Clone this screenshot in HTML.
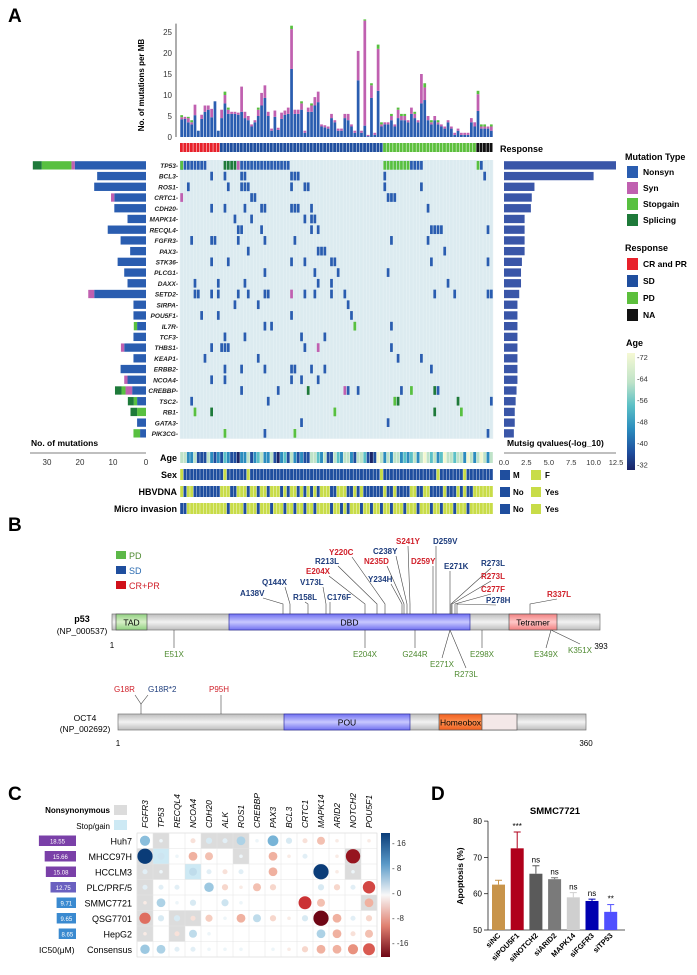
<!DOCTYPE html>
<html><head><meta charset="utf-8">
<style>
html,body{margin:0;padding:0;background:#fff;}
svg{display:block;font-family:"Liberation Sans",Arial,sans-serif;}
</style></head>
<body>
<svg id="fig" width="697" height="975" viewBox="0 0 697 975" xmlns="http://www.w3.org/2000/svg">
<text x="8" y="22" font-size="19" font-weight="bold">A</text>
<text x="8" y="531" font-size="19" font-weight="bold">B</text>
<text x="8" y="800" font-size="19" font-weight="bold">C</text>
<text x="431" y="800" font-size="19" font-weight="bold">D</text>
<g id="A"></g><g id="B"></g><g id="C"></g><g id="D"></g>
</svg>
<script>
// ===== Panel A data =====
const genes=["TP53","BCL3","ROS1","CRTC1","CDH20","MAPK14","RECQL4","FGFR3","PAX3","STK36","PLCG1","DAXX","SETD2","SIRPA","POU5F1","IL7R","TCF3","THBS1","KEAP1","ERBB2","NCOA4","CREBBP","TSC2","RB1","GATA3","PIK3CG"];
const tmbTotal=[5.2,4.8,4.8,4,7.7,1.5,5.3,7.5,7.5,6.7,8.5,1.5,6.5,10.8,7,6,6,5.8,12,6,5,3,4,7,10.5,12.3,6,2,6.3,2.2,5.8,6.3,7,26.5,6.5,6.5,8.5,1.5,7,8,9.5,10.8,3,2.8,2.5,5.5,4,2,2,5.5,5.5,3,1.5,20.5,1.5,28,0.5,12.8,1,22,3.5,3.5,3.5,5.5,3,7,5.5,5.5,4,7,6,4,15,12.8,5,4,5,4,3,2.5,4,2.5,1,2,1,1,1,4.5,3.5,11,3,3,2.5,3];
const tmbSyn=[0.5,0.5,1,0.5,2.5,0,1,1.5,1,2,0,0,2,2,1,0.5,0.5,0.5,6,1.5,1,0.5,0.5,1.5,3,3,1,0.5,1.5,0.5,1.5,1,1.5,9.5,1,1,1.5,0.5,1,1.5,2,2.5,0.5,0.5,0.5,1,0.5,0.5,0.5,1,1.5,0.5,0.5,7,0.5,25,0.3,3,0.5,10,0.5,0.5,0.5,1,0.5,2,1,1,0.5,1.5,1,0.5,7,3,1,0.5,1,0.5,0.5,0.5,0.5,0.5,0.5,0.5,0.5,0.5,0.5,1,1,4,0.5,0.5,0.5,1];
const tmbCap=[0.5,0,0.3,0.5,0,0,0,0,0,0,0,0,0,0.8,0.5,0,0,0,0,0,0,0,0,0.5,0,0,0,0,0,0,0,0,0,0.8,0,0,0.5,0,0,0.5,0,0,0,0,0,0,0,0,0,0,0,0,0,0,0,0.3,0,0.5,0,1,0.5,0,0,0.5,0,0.5,0.5,0.5,0,0,0.5,0,0,1,0,0.5,0,0.5,0,0,0,0,0,0,0,0,0,0,0,0.8,0.5,0.5,0,0.5];
const responseGroups=[["CR",12],["SD",49],["PD",28],["NA",5]];
// mutation marks: [geneIndex, column, type]  type: n=nonsyn s=syn g=stopgain p=splicing
const muts=[
[0,[0,1,2,3,4,5,6,7],"n"],[0,[0],"g"],[0,[13,14,15,16],"p"],[0,[17],"s"],[0,[18,19,20,21,22,23,24,25,26,27,28,29,30,31,32],"n"],[0,[61,62,63,64,65,66,67,68],"g"],[0,[69,70,71,72],"n"],[0,[89],"g"],[0,[90],"n"],
[1,[9,13,18,19,33,34,35,61,91],"n"],[2,[2,14,18,19,20,33,37,38,61,72],"n"],[3,[0],"s"],[3,[21,22,62,63,64],"n"],
[4,[9,13,19,24,25,33,34,35,39,74],"n"],[5,[16,21,37,39,40],"n"],[6,[17,18,24,39,41,75,76,77,78,92],"n"],
[7,[3,9,10,17,25,34,63,74],"n"],[8,[20,41,42,43,79],"n"],[9,[9,14,33,37,45,46,75,92],"n"],[10,[25,40,47,62],"n"],
[11,[4,11,19,41,45,80],"n"],[12,[4,5,9,11,17,20,25,26,37,40,45,49,76,82,92,93],"n"],[12,[33],"s"],
[13,[16,23,50],"n"],[14,[6,11,33,51],"n"],[15,[25,27,63],"n"],[15,[52],"g"],[16,[13,19,36,43],"n"],
[17,[9,12,13,14,37,63],"n"],[17,[41],"s"],[18,[7,23,65,72],"n"],[19,[13,18,25,33,34,39,43,75],"n"],[20,[9,13,33,36,41],"n"],
[21,[18,29,50,53,66,77],"n"],[21,[38,76],"p"],[21,[49],"s"],[21,[69],"g"],
[22,[3,26,93],"n"],[22,[64],"g"],[22,[65,83],"p"],[23,[4,46,84],"g"],[23,[9,76],"p"],
[24,[36,62],"n"],[25,[13,34],"g"],[25,[25,92],"n"]];
const leftNonsyn=[21.6,14.8,15.7,9.6,9.6,5.6,11.6,7.7,4.8,8.6,6.6,5.6,15.7,3.8,3.8,2.7,3.8,6.6,3.8,7.7,5.6,4.2,2.7,0,2.7,1.8];
const leftSyn=[1,0,0,1,0,0,0,0,0,0,0,0,1.8,0,0,0,0,1,0,0,1,2,0,0,0,0];
const leftStop=[9,0,0,0,0,0,0,0,0,0,0,0,0,0,0,1,0,0,0,0,0,1.2,1,2.7,0,2];
const leftSplice=[2.7,0,0,0,0,0,0,0,0,0,0,0,0,0,0,0,0,0,0,0,0,2,1.8,2,0,0];
const qvals=[12.5,10,3.4,3.1,3.0,2.3,2.3,2.3,2.3,2.0,1.9,1.9,1.7,1.5,1.5,1.5,1.5,1.5,1.5,1.5,1.5,1.4,1.3,1.2,1.2,1.1];
const ageVals=[60,62,50,45,62,36,40,38,62,45,42,50,36,55,48,36,38,30,44,50,60,40,50,55,62,48,46,62,40,32,50,55,38,62,45,38,50,36,42,62,66,52,50,62,40,36,66,58,48,62,62,50,40,62,66,55,38,30,42,70,62,46,60,50,66,60,48,52,50,55,62,44,66,70,60,52,60,48,52,70,66,60,52,66,62,48,70,66,50,62,70,62,50,66];
const sexF=[0,13,20,60,77,85];
const hbvNo=[1,4,5,6,7,8,9,10,11,15,16,20,23,26,30,32,35,37,39,41,45,46,50,51,53,55,56,57,58,59,60,62,63,65,66,67,68,71,72,75,76,77,78,80,81,82,84,86,87];
const microYes=[2,3,4,5,6,7,8,9,10,11,12,13,15,16,17,18,20,21,22,24,25,26,28,29,30,32,33,35,36,38,39,41,42,43,44,46,47,49,51,52,53,55,56,58,59,61,62,64,65,66,68,69,70,72,73,74,76,77,79,80,81,83,84,85,87,88,89,90,91,92,93];
const yTicks=[0,5,10,15,20,25];
const lTicks=[30,20,10,0];
const rTicks=["0.0","2.5","5.0","7.5","10.0","12.5"];
const ageTicks=[72,64,56,48,40,32];

// ===== Panel C data =====
const cGenes=["FGFR3","TP53","RECQL4","NCOA4","CDH20","ALK","ROS1","CREBBP","PAX3","BCL3","CRTC1","MAPK14","ARID2","NOTCH2","POU5F1"];
const cLines=["Huh7","MHCC97H","HCCLM3","PLC/PRF/5","SMMC7721","QSG7701","HepG2","Consensus"];
const ic50=[18.55,15.66,15.08,12.75,9.71,9.65,8.65];
const r0=[8,1,0,-2,3,2,6,1,9,3,-2,-5,-1,0,-1];
const r1=[18,4,1,-6,-5,0,1,0,-6,-1,2,0,-1,-16,0];
const r2=[2,1,0,5,2,-2,2,0,-6,0,0,18,-1,1,0];
const r3=[2,2,2,0,7,-3,-1,-5,-3,0,0,3,-3,2,-12];
const r4=[-1,6,1,3,0,4,1,0,0,0,-13,-5,0,0,-6];
const r5=[-10,3,3,-2,-4,1,-6,5,-3,-1,3,-18,-6,2,-3];
const r6=[-1,0,-2,5,1,0,0,0,0,0,0,6,-6,-2,-5];
const r7=[7,6,2,2,1,1,1,0,1,-1,-3,-6,-6,-8,-11];
const cBg=[[[1,"g"],[4,"g"],[5,"g"],[6,"g"]],[[0,"g"],[1,"b"],[6,"g"],[13,"g"]],[[0,"g"],[1,"g"],[3,"b"],[13,"g"]],[[0,"g"]],[[0,"g"],[14,"g"]],[[0,"g"],[2,"g"],[3,"g"]],[[0,"g"],[2,"g"]],[]];
const cTicks=[16,8,0,-8,-16];

// ===== Panel D data =====
const dCats=["siNC","siPOU5F1","siNOTCH2","siARID2","MAPK14","siFGFR3","siTP53"];
const dVals=[62.5,72.5,65.5,64,59,58,55];
const dErr=[1.2,4.5,2.2,0.4,1.3,0.5,2];
const dSig=["","***","ns","ns","ns","ns","**"];
const dTicks=[50,60,70,80];

const NS="http://www.w3.org/2000/svg";
function mk(parent,tag,attrs,text){const e=document.createElementNS(NS,tag);for(const k in attrs)e.setAttribute(k,attrs[k]);if(text!==undefined)e.textContent=text;parent.appendChild(e);return e;}

// ===== Panel A =====
(function(){
const g=document.getElementById('A');
const X0=180,W=313,N=94,cw=W/N;
const colX=c=>X0+c*cw;
const yB=v=>137-v*4.2;
const TC={n:"#2a5db0",s:"#c060b0",g:"#58c040",p:"#1e7a3a"};
// axis
let ax=mk(g,'line',{x1:176,y1:yB(0),x2:176,y2:yB(27),stroke:"#333","stroke-width":0.8});

yTicks.forEach(t=>{let l=mk(g,'text',{x:172,y:yB(t)+3,"font-size":8,"text-anchor":"end",fill:"#333"},t);
});
let yt=mk(g,'text',{x:144,y:85,"font-size":8,"font-weight":"bold","text-anchor":"middle",transform:"rotate(-90 144 85)"},"No. of mutations per MB");

for(let i=0;i<N;i++){
 const ns=Math.max(0,tmbTotal[i]-tmbSyn[i]-tmbCap[i]);
 let y=yB(0);
 [[ns,TC.n],[tmbSyn[i],TC.s],[tmbCap[i],TC.g]].forEach(([v,c])=>{if(v<=0)return;const h=v*4.2;
  let r=mk(g,'rect',{x:colX(i)+0.3,y:y-h,width:cw-0.6,height:h,fill:c});
  y-=h;});
}
// response track
let c0=0;const RC={CR:"#e8212b",SD:"#1f4e9e",PD:"#5cbf3c",NA:"#111"};
responseGroups.forEach(([k,n])=>{for(let i=0;i<n;i++){let r=mk(g,'rect',{x:colX(c0+i),y:143,width:cw-0.5,height:9,fill:RC[k]});
 }c0+=n;});
mk(g,'text',{x:500,y:152,"font-size":9,"font-weight":"bold"},"Response");
// grid
const rh=10.72,GY=160;
let bg=mk(g,'rect',{x:X0,y:GY,width:W,height:rh*26,fill:"#dcebf0"});

for(let i=0;i<=N;i++)mk(g,'line',{x1:colX(i),y1:GY,x2:colX(i),y2:GY+rh*26,stroke:"#eaf3f6","stroke-width":0.5});
const lx=v=>146-v*3.3;
genes.forEach((gn,i)=>{const y=GY+i*rh;
 let t=mk(g,'text',{x:178,y:y+8,"font-size":6.5,"font-style":"italic","font-weight":"bold","text-anchor":"end",fill:"#222"},gn+"-");
 
 let x=146;
 [[leftNonsyn[i],TC.n],[leftSyn[i],TC.s],[leftStop[i],TC.g],[leftSplice[i],TC.p]].forEach(([v,c])=>{if(v<=0)return;const w=v*3.3;
  let r=mk(g,'rect',{x:x-w,y:y+1.2,width:w,height:rh-2.4,fill:c});x-=w;});
 let q=mk(g,'rect',{x:504,y:y+1.2,width:qvals[i]*8.96,height:rh-2.4,fill:"#3a56a8"});
 
});
muts.forEach(([gi,cols,t])=>cols.forEach(c=>{let r=mk(g,'rect',{x:colX(c)+0.3,y:GY+gi*rh+1,width:cw-0.6,height:rh-2,fill:TC[t]});
 }));
// left axis
mk(g,'text',{x:31,y:446,"font-size":8.5,"font-weight":"bold"},"No. of mutations");
mk(g,'line',{x1:30,y1:453,x2:146,y2:453,stroke:"#555","stroke-width":0.7});
lTicks.forEach(t=>{mk(g,'text',{x:lx(t),y:465,"font-size":8,"text-anchor":"middle",fill:"#333"},t);});
mk(g,'text',{x:507,y:446,"font-size":8.5,"font-weight":"bold"},"Mutsig qvalues(-log_10)");
mk(g,'line',{x1:504,y1:453,x2:616,y2:453,stroke:"#555","stroke-width":0.7});
rTicks.forEach((t,i)=>{mk(g,'text',{x:504+i*22.4,y:465,"font-size":7.5,"text-anchor":"middle",fill:"#333"},t);});
// clinical tracks
const ageCol=v=>{const s=[[32,"#1a2466"],[40,"#1f4e9e"],[48,"#2b8cbe"],[56,"#5bc0c6"],[64,"#bfe3c8"],[72,"#f4f8d2"]];
 for(let i=1;i<s.length;i++)if(v<=s[i][0])return (v-s[i-1][0])<(s[i][0]-v)?s[i-1][1]:s[i][1];return s[5][1];};
const YEL="#c8dc48",BLU="#1f4e9e";
const tracks=[["Age",452],["Sex",469],["HBVDNA",486],["Micro invasion",503]];
tracks.forEach(([nm,y],ti)=>{
 let t=mk(g,'text',{x:177,y:y+9,"font-size":9,"font-weight":"bold","text-anchor":"end"},nm);
 
 for(let i=0;i<N;i++){let c;
  if(ti==0)c=ageCol(ageVals[i]);else if(ti==1)c=sexF.includes(i)?YEL:BLU;else if(ti==2)c=hbvNo.includes(i)?BLU:YEL;else c=microYes.includes(i)?YEL:BLU;
  let r=mk(g,'rect',{x:colX(i)+0.2,y:y,width:cw-0.4,height:11,fill:c});}
});
[["M","F",469],["No","Yes",486],["No","Yes",503]].forEach(([a,b,y])=>{
 mk(g,'rect',{x:500,y:y+1,width:10,height:10,fill:BLU});mk(g,'text',{x:513,y:y+9,"font-size":8,"font-weight":"bold"},a);
 mk(g,'rect',{x:531,y:y+1,width:10,height:10,fill:YEL});mk(g,'text',{x:545,y:y+9,"font-size":8,"font-weight":"bold"},b);});
// legends
mk(g,'text',{x:625,y:160,"font-size":9,"font-weight":"bold"},"Mutation Type");
[["Nonsyn",TC.n,166],["Syn",TC.s,182],["Stopgain",TC.g,198],["Splicing",TC.p,214]].forEach(([n,c,y])=>{
 let r=mk(g,'rect',{x:627,y:y,width:11,height:12,fill:c});
 mk(g,'text',{x:643,y:y+9,"font-size":8.5,"font-weight":"bold"},n);});
mk(g,'text',{x:625,y:251,"font-size":9,"font-weight":"bold"},"Response");
[["CR and PR",RC.CR,258],["SD",RC.SD,275],["PD",RC.PD,292],["NA",RC.NA,309]].forEach(([n,c,y])=>{
 let r=mk(g,'rect',{x:627,y:y,width:11,height:12,fill:c});
 mk(g,'text',{x:643,y:y+9,"font-size":8.5,"font-weight":"bold"},n);});
mk(g,'text',{x:626,y:346,"font-size":9,"font-weight":"bold"},"Age");
const defs=mk(g,'defs',{});const lg=mk(defs,'linearGradient',{id:"ageg",x1:0,y1:0,x2:0,y2:1});
[["0","#f6f9d4"],["0.25","#bfe3c8"],["0.45","#5bc0c6"],["0.65","#2b8cbe"],["0.85","#1f4e9e"],["1","#1a2466"]].forEach(([o,c])=>mk(lg,'stop',{offset:o,"stop-color":c}));
let cb=mk(g,'rect',{x:627,y:353,width:8,height:117,fill:"url(#ageg)"});
ageTicks.forEach((t,i)=>mk(g,'text',{x:637,y:360+i*21.5,"font-size":7.5,fill:"#333"},"-"+t));
})();

// ===== Panel B =====
(function(){
const g=document.getElementById('B');
const RED="#d0202a",BL="#1d3c7c",GR="#4e8a30";
[["PD","#5cb848",GR,551],["SD","#1f4e9e","#2a6ab0",566],["CR+PR","#d0101a",RED,581]].forEach(([t,c,tc,y])=>{
 mk(g,'rect',{x:116,y:y,width:10,height:8,fill:c});let e=mk(g,'text',{x:129,y:y+8,"font-size":9,fill:tc},t);});
const defs=mk(g,'defs',{});
function grad(id,c1,c2){const l=mk(defs,'linearGradient',{id:id,x1:0,y1:0,x2:0,y2:1});mk(l,'stop',{offset:0,"stop-color":c2});mk(l,'stop',{offset:0.5,"stop-color":c1});mk(l,'stop',{offset:1,"stop-color":c2});}
grad("gry","#f2f2f2","#bdbdbd");grad("blu","#c8c8ff","#7070f0");grad("gre","#d8f0c8","#90d080");grad("pnk","#ffc8c8","#f08080");grad("org","#ff9050","#f06020");
function prot(x1,x2,y,doms,name){let b=mk(g,'rect',{x:x1,y:y,width:x2-x1,height:16,fill:"url(#gry)",stroke:"#777","stroke-width":0.7});
 
 doms.forEach(([a,b2,f,t,st])=>{let r=mk(g,'rect',{x:a,y:y,width:b2-a,height:16,fill:f,stroke:st||"#555","stroke-width":0.7});
  if(t)mk(g,'text',{x:(a+b2)/2,y:y+11.5,"font-size":8.5,"text-anchor":"middle"},t);});}
prot(112,600,614,[[116,147,"url(#gre)","TAD"],[229,470,"url(#blu)","DBD","#3030a0"],[509,557,"url(#pnk)","Tetramer"]],"p53");
mk(g,'text',{x:82,y:622,"font-size":9,"font-weight":"bold","text-anchor":"middle"},"p53");
mk(g,'text',{x:82,y:634,"font-size":8.5,"text-anchor":"middle"},"(NP_000537)");
mk(g,'text',{x:112,y:648,"font-size":8,"text-anchor":"middle"},"1");mk(g,'text',{x:601,y:649,"font-size":8,"text-anchor":"middle"},"393");
const above=[["A138V",BL,240,596,283],["Q144X",BL,262,585,290],["R158L",BL,293,600,308],["V173L",BL,300,585,326],["C176F",BL,327,600,330],["E204X",RED,306,574,365],["R213L",BL,315,564,377],["Y220C",RED,329,555,385],["Y234H",BL,368,582,402],["N235D",RED,364,564,404],["C238Y",BL,373,554,407],["S241Y",RED,396,544,410],["D259Y",RED,411,564,433],["D259V",BL,433,544,436],["E271K",BL,444,569,450],["R273L",BL,481,566,451],["R273L",RED,481,579,452],["C277F",RED,481,592,455],["P278H",BL,486,603,457],["R337L",RED,547,597,530]];
above.forEach(([t,c,x,y,px])=>{let e=mk(g,'text',{x:x,y:y,"font-size":8,"font-weight":"bold",fill:c},t);
 const tx=(x<px-20)?x+t.length*4.6:(x>px?x-1:x+12);mk(g,'polyline',{points:`${x<px?Math.min(tx,px):x+10},${y+2} ${px},604 ${px},614`,fill:"none",stroke:"#444","stroke-width":0.6});});
const below=[["E51X",174,657],["E204X",365,657],["G244R",415,657],["E271X",442,667],["R273L",466,677],["E298X",482,657],["E349X",546,657],["K351X",580,653]];
below.forEach(([t,x,y])=>{let e=mk(g,'text',{x:x,y:y,"font-size":8,"text-anchor":"middle",fill:GR},t);
 mk(g,'line',{x1:x>=440&&x<470?450:(x==580?551:(x==546?551:x)),y1:630,x2:x,y2:y-9,stroke:"#444","stroke-width":0.6});});
// OCT4
prot(118,586,714,[[284,410,"url(#blu)","POU","#3030a0"],[439,482,"url(#org)","Homeobox"],[482,517,"#f4e8e8",""]],"oct4");
mk(g,'text',{x:85,y:721,"font-size":8.5,"text-anchor":"middle"},"OCT4");mk(g,'text',{x:85,y:732,"font-size":8.5,"text-anchor":"middle"},"(NP_002692)");
mk(g,'text',{x:118,y:746,"font-size":8,"text-anchor":"middle"},"1");mk(g,'text',{x:586,y:746,"font-size":8,"text-anchor":"middle"},"360");
mk(g,'text',{x:114,y:692,"font-size":8,fill:RED},"G18R");mk(g,'text',{x:148,y:692,"font-size":8,fill:BL},"G18R*2");mk(g,'text',{x:209,y:692,"font-size":8,fill:RED},"P95H");
mk(g,'polyline',{points:"135,695 141,704 148,695",fill:"none",stroke:"#444","stroke-width":0.6});mk(g,'line',{x1:141,y1:704,x2:141,y2:714,stroke:"#444","stroke-width":0.6});
mk(g,'line',{x1:221,y1:695,x2:221,y2:714,stroke:"#444","stroke-width":0.6});
})();

// ===== Panel C =====
(function(){
const g=document.getElementById('C');
const rows=[r0,r1,r2,r3,r4,r5,r6,r7];
const GX=137,GY=833,cw=16,rh=15.5;
const colr=v=>{const t=Math.min(1,Math.abs(v)/18);
 const pos=[[247,251,252],[200,225,238],[120,180,215],[50,130,190],[10,60,120]],neg=[[250,245,242],[245,200,185],[230,130,110],[200,40,45],[110,5,20]];
 const s=v>=0?pos:neg;const f=t*4,i=Math.min(3,Math.floor(f)),u=f-i;const c=s[i].map((a,k)=>Math.round(a+(s[i+1][k]-a)*u));return `rgb(${c})`;};
mk(g,'rect',{x:GX,y:GY,width:cw*15,height:rh*8,fill:"#fff",stroke:"#ccc","stroke-width":0.5});
cBg.forEach((lst,r)=>lst.forEach(([c,t])=>{let b=mk(g,'rect',{x:GX+c*cw,y:GY+r*rh,width:cw,height:rh,fill:t=="g"?"#dcdcdc":"#cde9f4"});}));
for(let i=0;i<=15;i++)mk(g,'line',{x1:GX+i*cw,y1:GY,x2:GX+i*cw,y2:GY+rh*8,stroke:"#e4e4e4","stroke-width":0.5});
for(let i=0;i<=8;i++)mk(g,'line',{x1:GX,y1:GY+i*rh,x2:GX+cw*15,y2:GY+i*rh,stroke:"#e4e4e4","stroke-width":0.5});
rows.forEach((row,r)=>row.forEach((v,c)=>{const rad=Math.sqrt(Math.abs(v)/18)*7.6;if(rad<0.6)return;
 let e=mk(g,'circle',{cx:GX+c*cw+cw/2,cy:GY+r*rh+rh/2,r:rad,fill:colr(v)});}));
cGenes.forEach((n,i)=>{const x=GX+i*cw+cw/2+3,y=828;let t=mk(g,'text',{x:x,y:y,"font-size":8.5,"font-style":"italic",transform:`rotate(-90 ${x} ${y})`},n);});
cLines.forEach((n,i)=>{let t=mk(g,'text',{x:132,y:GY+i*rh+rh/2+3.5,"font-size":9,"text-anchor":"end"},n);});
ic50.forEach((v,i)=>{const w=v*2.0,c=i<3?"#7a40a8":(i<4?"#6a60c0":"#3a8ad0");
 let b=mk(g,'rect',{x:76-w,y:GY+i*rh+2.5,width:w,height:rh-5,fill:c});
 mk(g,'text',{x:76-w/2,y:GY+i*rh+rh/2+2.5,"font-size":6,"text-anchor":"middle",fill:"#fff"},v.toFixed(2));});
mk(g,'text',{x:39,y:GY+7*rh+rh/2+3.5,"font-size":8.5},"IC50(μM)");
mk(g,'text',{x:110,y:813,"font-size":8,"font-weight":"bold","text-anchor":"end"},"Nonsynonymous");mk(g,'rect',{x:114,y:805,width:13,height:10,fill:"#dcdcdc"});
mk(g,'text',{x:110,y:829,"font-size":8,"text-anchor":"end"},"Stop/gain");mk(g,'rect',{x:114,y:820,width:13,height:10,fill:"#cde9f4"});
const defs=mk(g,'defs',{});const lg=mk(defs,'linearGradient',{id:"cg",x1:0,y1:0,x2:0,y2:1});
[["0","#0a3c78"],["0.25","#5a9ac8"],["0.5","#f8f8f8"],["0.75","#e08070"],["1","#6e0514"]].forEach(([o,c])=>mk(lg,'stop',{offset:o,"stop-color":c}));
let cb=mk(g,'rect',{x:381,y:GY,width:9,height:rh*8,fill:"url(#cg)"});
cTicks.forEach((t,i)=>mk(g,'text',{x:392,y:846+i*25,"font-size":8,fill:"#333"},"- "+t));
})();

// ===== Panel D =====
(function(){
const g=document.getElementById('D');
const y=v=>930-(v-50)*3.63;const bx=i=>492+i*18.7;
const cols=["#c8944a","#b0001b","#5a5a5a","#7a7a7a","#cfcfcf","#0000b0","#5050ff"];
mk(g,'text',{x:555,y:814,"font-size":9.5,"font-weight":"bold","text-anchor":"middle"},"SMMC7721");
mk(g,'line',{x1:488,y1:y(80),x2:488,y2:y(50),stroke:"#222","stroke-width":0.8});
mk(g,'line',{x1:488,y1:y(50),x2:625,y2:y(50),stroke:"#222","stroke-width":0.8});
dTicks.forEach(t=>{mk(g,'line',{x1:484,y1:y(t),x2:488,y2:y(t),stroke:"#222","stroke-width":0.8});mk(g,'text',{x:482,y:y(t)+3,"font-size":8,"text-anchor":"end"},t);});
mk(g,'text',{x:463,y:876,"font-size":8.5,"font-weight":"bold","text-anchor":"middle",transform:"rotate(-90 463 876)"},"Apoptosis (%)");
dVals.forEach((v,i)=>{const x=bx(i);
 let r=mk(g,'rect',{x:x,y:y(v),width:13,height:y(50)-y(v),fill:cols[i]});
 mk(g,'line',{x1:x+6.5,y1:y(v),x2:x+6.5,y2:y(v+dErr[i]),stroke:cols[i],"stroke-width":1});
 mk(g,'line',{x1:x+3,y1:y(v+dErr[i]),x2:x+10,y2:y(v+dErr[i]),stroke:cols[i],"stroke-width":1});
 if(dSig[i])mk(g,'text',{x:x+6.5,y:y(v+dErr[i])-3,"font-size":8,"text-anchor":"middle"},dSig[i]);
 const lx=x+9,ly=936;let t=mk(g,'text',{x:lx,y:ly,"font-size":7.5,"font-weight":"bold","text-anchor":"end",transform:`rotate(-45 ${lx} ${ly})`},dCats[i]);
});
})();
</script>
</body></html>
